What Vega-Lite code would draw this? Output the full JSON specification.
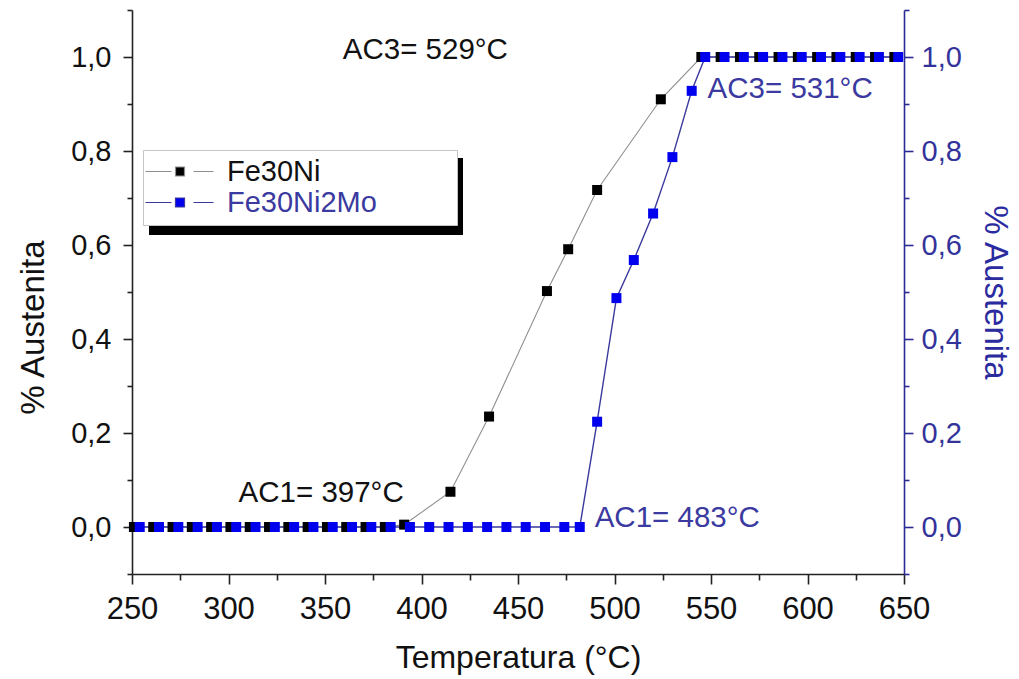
{
  "$schema": "https://vega.github.io/schema/vega-lite/v6.json",
  "width": 772,
  "height": 564,
  "autosize": {"type": "none"},
  "padding": {"left": 132, "top": 10, "right": 115, "bottom": 105},
  "background": "white",
  "config": {
    "view": {"stroke": null},
    "font": "Liberation Sans",
    "axis": {"grid": false, "labelFont": "Liberation Sans", "titleFont": "Liberation Sans", "titleFontWeight": "normal", "labelOverlap": false, "labelFlush": false, "labelBound": false}
  },
  "datasets": {
    "curves": [
      {"series": "Fe30Ni", "T": 251, "A": 0},
      {"series": "Fe30Ni", "T": 261, "A": 0},
      {"series": "Fe30Ni", "T": 271, "A": 0},
      {"series": "Fe30Ni", "T": 281, "A": 0},
      {"series": "Fe30Ni", "T": 291, "A": 0},
      {"series": "Fe30Ni", "T": 301, "A": 0},
      {"series": "Fe30Ni", "T": 311, "A": 0},
      {"series": "Fe30Ni", "T": 321, "A": 0},
      {"series": "Fe30Ni", "T": 331, "A": 0},
      {"series": "Fe30Ni", "T": 341, "A": 0},
      {"series": "Fe30Ni", "T": 351, "A": 0},
      {"series": "Fe30Ni", "T": 361, "A": 0},
      {"series": "Fe30Ni", "T": 371, "A": 0},
      {"series": "Fe30Ni", "T": 381, "A": 0},
      {"series": "Fe30Ni", "T": 391, "A": 0.005},
      {"series": "Fe30Ni", "T": 415, "A": 0.075},
      {"series": "Fe30Ni", "T": 435, "A": 0.235},
      {"series": "Fe30Ni", "T": 465, "A": 0.502},
      {"series": "Fe30Ni", "T": 476, "A": 0.591},
      {"series": "Fe30Ni", "T": 491, "A": 0.717},
      {"series": "Fe30Ni", "T": 524, "A": 0.91},
      {"series": "Fe30Ni", "T": 545, "A": 1.0},
      {"series": "Fe30Ni", "T": 555, "A": 1.0},
      {"series": "Fe30Ni", "T": 565, "A": 1.0},
      {"series": "Fe30Ni", "T": 575, "A": 1.0},
      {"series": "Fe30Ni", "T": 585, "A": 1.0},
      {"series": "Fe30Ni", "T": 595, "A": 1.0},
      {"series": "Fe30Ni", "T": 605, "A": 1.0},
      {"series": "Fe30Ni", "T": 615, "A": 1.0},
      {"series": "Fe30Ni", "T": 625, "A": 1.0},
      {"series": "Fe30Ni", "T": 635, "A": 1.0},
      {"series": "Fe30Ni", "T": 645, "A": 1.0},
      {"series": "Fe30Ni2Mo", "T": 254, "A": 0},
      {"series": "Fe30Ni2Mo", "T": 264, "A": 0},
      {"series": "Fe30Ni2Mo", "T": 274, "A": 0},
      {"series": "Fe30Ni2Mo", "T": 284, "A": 0},
      {"series": "Fe30Ni2Mo", "T": 294, "A": 0},
      {"series": "Fe30Ni2Mo", "T": 304, "A": 0},
      {"series": "Fe30Ni2Mo", "T": 314, "A": 0},
      {"series": "Fe30Ni2Mo", "T": 324, "A": 0},
      {"series": "Fe30Ni2Mo", "T": 334, "A": 0},
      {"series": "Fe30Ni2Mo", "T": 344, "A": 0},
      {"series": "Fe30Ni2Mo", "T": 354, "A": 0},
      {"series": "Fe30Ni2Mo", "T": 364, "A": 0},
      {"series": "Fe30Ni2Mo", "T": 374, "A": 0},
      {"series": "Fe30Ni2Mo", "T": 384, "A": 0},
      {"series": "Fe30Ni2Mo", "T": 394, "A": 0},
      {"series": "Fe30Ni2Mo", "T": 404, "A": 0},
      {"series": "Fe30Ni2Mo", "T": 414, "A": 0},
      {"series": "Fe30Ni2Mo", "T": 424, "A": 0},
      {"series": "Fe30Ni2Mo", "T": 434, "A": 0},
      {"series": "Fe30Ni2Mo", "T": 444, "A": 0},
      {"series": "Fe30Ni2Mo", "T": 454, "A": 0},
      {"series": "Fe30Ni2Mo", "T": 464, "A": 0},
      {"series": "Fe30Ni2Mo", "T": 474, "A": 0},
      {"series": "Fe30Ni2Mo", "T": 482, "A": 0},
      {"series": "Fe30Ni2Mo", "T": 491, "A": 0.224},
      {"series": "Fe30Ni2Mo", "T": 501, "A": 0.487},
      {"series": "Fe30Ni2Mo", "T": 510, "A": 0.568},
      {"series": "Fe30Ni2Mo", "T": 520, "A": 0.667},
      {"series": "Fe30Ni2Mo", "T": 530, "A": 0.787},
      {"series": "Fe30Ni2Mo", "T": 540, "A": 0.928},
      {"series": "Fe30Ni2Mo", "T": 547, "A": 1.0},
      {"series": "Fe30Ni2Mo", "T": 557, "A": 1.0},
      {"series": "Fe30Ni2Mo", "T": 567, "A": 1.0},
      {"series": "Fe30Ni2Mo", "T": 577, "A": 1.0},
      {"series": "Fe30Ni2Mo", "T": 587, "A": 1.0},
      {"series": "Fe30Ni2Mo", "T": 597, "A": 1.0},
      {"series": "Fe30Ni2Mo", "T": 607, "A": 1.0},
      {"series": "Fe30Ni2Mo", "T": 617, "A": 1.0},
      {"series": "Fe30Ni2Mo", "T": 627, "A": 1.0},
      {"series": "Fe30Ni2Mo", "T": 637, "A": 1.0},
      {"series": "Fe30Ni2Mo", "T": 647, "A": 1.0}
    ],
    "notes": [
      {"series": "Fe30Ni", "note": "AC3= 529°C", "T": 402, "A": 1.015},
      {"series": "Fe30Ni", "note": "AC1= 397°C", "T": 348, "A": 0.073},
      {"series": "Fe30Ni2Mo", "note": "AC3= 531°C", "T": 591, "A": 0.932},
      {"series": "Fe30Ni2Mo", "note": "AC1= 483°C", "T": 532.5, "A": 0.02}
    ]
  },
  "data": {"name": "curves"},
  "layer": [
    {
      "mark": {"type": "rect", "color": "#000000"},
      "encoding": {
        "x": {"datum": 259.3, "type": "quantitative", "axis": {"title": "Temperatura (°C)", "values": [250, 275, 300, 325, 350, 375, 400, 425, 450, 475, 500, 525, 550, 575, 600, 625, 650], "labelExpr": "datum.value % 50 == 0 ? datum.label : ''", "tickSize": {"condition": {"test": "datum.value % 50 == 0", "value": 10}, "value": 6}, "domainColor": "#222222", "domainWidth": 1.6, "tickColor": "#222222", "tickWidth": 1.6, "labelColor": "#111111", "labelFontSize": 31, "labelPadding": 10, "titleFontSize": 32, "titleColor": "#111111", "titlePadding": 18}},
        "x2": {"datum": 421.5},
        "y": {"datum": 0.785, "type": "quantitative", "axis": null},
        "y2": {"datum": 0.622}
      }
    },
    {
      "transform": [{"filter": "datum.series == 'Fe30Ni'"}],
      "mark": {"type": "line", "stroke": "#8f8f8f", "strokeWidth": 1.1},
      "encoding": {
        "x": {
          "field": "T", "type": "quantitative",
          "scale": {"domain": [250, 650], "nice": false, "zero": false},
          "axis": {"title": "Temperatura (°C)", "values": [250, 275, 300, 325, 350, 375, 400, 425, 450, 475, 500, 525, 550, 575, 600, 625, 650], "labelExpr": "datum.value % 50 == 0 ? datum.label : ''", "tickSize": {"condition": {"test": "datum.value % 50 == 0", "value": 10}, "value": 6}, "domainColor": "#222222", "domainWidth": 1.6, "tickColor": "#222222", "tickWidth": 1.6, "labelColor": "#111111", "labelFontSize": 31, "labelPadding": 10, "titleFontSize": 32, "titleColor": "#111111", "titlePadding": 18}
        },
        "y": {
          "field": "A", "type": "quantitative",
          "scale": {"domain": [-0.1, 1.1], "nice": false, "zero": false},
          "axis": {
            "orient": "left",
            "title": "% Austenita",
            "values": [-0.1, 0, 0.1, 0.2, 0.3, 0.4, 0.5, 0.6, 0.7, 0.8, 0.9, 1.0, 1.1],
            "labelExpr": "round(datum.value*10)%2 == 0 ? replace(format(datum.value, '.1f'), '.', ',') : ''",
            "tickSize": {"condition": {"test": "round(datum.value*10)%2 == 0", "value": 9}, "value": 5},
            "domainColor": "#222222", "domainWidth": 1.6,
            "tickColor": "#222222", "tickWidth": 1.6,
            "labelColor": "#111111", "labelFontSize": 29, "labelPadding": 12,
            "titleFontSize": 33, "titleColor": "#111111", "titlePadding": 20, "titleY": 317
          }
        }
      }
    },
    {
      "transform": [{"filter": "datum.series == 'Fe30Ni2Mo'"}],
      "mark": {"type": "line", "stroke": "#3a3a9c", "strokeWidth": 1.4},
      "encoding": {
        "x": {"field": "T", "type": "quantitative", "axis": {"title": "Temperatura (°C)", "values": [250, 275, 300, 325, 350, 375, 400, 425, 450, 475, 500, 525, 550, 575, 600, 625, 650], "labelExpr": "datum.value % 50 == 0 ? datum.label : ''", "tickSize": {"condition": {"test": "datum.value % 50 == 0", "value": 10}, "value": 6}, "domainColor": "#222222", "domainWidth": 1.6, "tickColor": "#222222", "tickWidth": 1.6, "labelColor": "#111111", "labelFontSize": 31, "labelPadding": 10, "titleFontSize": 32, "titleColor": "#111111", "titlePadding": 18}},
        "y": {
          "field": "A", "type": "quantitative",
          "axis": {
            "orient": "right",
            "title": "% Austenita",
            "values": [-0.1, 0, 0.1, 0.2, 0.3, 0.4, 0.5, 0.6, 0.7, 0.8, 0.9, 1.0, 1.1],
            "labelExpr": "round(datum.value*10)%2 == 0 ? replace(format(datum.value, '.1f'), '.', ',') : ''",
            "tickSize": {"condition": {"test": "round(datum.value*10)%2 == 0", "value": 9}, "value": 5},
            "domainColor": "#2b2b96", "domainWidth": 1.6,
            "tickColor": "#2b2b96", "tickWidth": 1.6,
            "labelColor": "#33339a", "labelFontSize": 29, "labelPadding": 8,
            "titleFontSize": 33, "titleColor": "#2b2ba0", "titlePadding": 16
          }
        }
      }
    },
    {
      "mark": {"type": "point", "shape": "square", "filled": true, "size": 100, "opacity": 1},
      "encoding": {
        "x": {"field": "T", "type": "quantitative", "axis": {"title": "Temperatura (°C)", "values": [250, 275, 300, 325, 350, 375, 400, 425, 450, 475, 500, 525, 550, 575, 600, 625, 650], "labelExpr": "datum.value % 50 == 0 ? datum.label : ''", "tickSize": {"condition": {"test": "datum.value % 50 == 0", "value": 10}, "value": 6}, "domainColor": "#222222", "domainWidth": 1.6, "tickColor": "#222222", "tickWidth": 1.6, "labelColor": "#111111", "labelFontSize": 31, "labelPadding": 10, "titleFontSize": 32, "titleColor": "#111111", "titlePadding": 18}},
        "y": {"field": "A", "type": "quantitative", "axis": null},
        "color": {
          "field": "series", "type": "nominal",
          "scale": {"domain": ["Fe30Ni", "Fe30Ni2Mo"], "range": ["#000000", "#0000ee"]},
          "legend": {
            "title": null,
            "orient": "none",
            "legendX": 11,
            "legendY": 140,
            "symbolType": "M-3.8,0H1.4M5.8,0H9.8M2.2,-0.9H4V0.9H2.2Z",
            "symbolSize": 100,
            "symbolStrokeWidth": 1.2,
            "symbolStrokeColor": {"expr": "datum.value == 'Fe30Ni' ? '#8f8f8f' : '#3a3a9c'"},
            "symbolOpacity": 1,
            "labelFont": "Liberation Sans",
            "labelFontSize": 29,
            "labelOffset": 48,
            "labelLimit": 600,
            "labelColor": {"expr": "datum.label == 'Fe30Ni' ? '#111111' : '#3a3aa0'"},
            "labelExpr": "datum.label + '\u00a0\u00a0\u00a0\u00a0\u00a0\u00a0\u00a0\u00a0\u00a0\u200b'",
            "strokeColor": "#c4c4c4",
            "fillColor": "white",
            "padding": 7,
            "rowPadding": 1
          }
        }
      }
    },
    {
      "data": {"name": "notes"},
      "transform": [{"filter": "datum.series == 'Fe30Ni'"}],
      "mark": {"type": "text", "font": "Liberation Sans", "fontSize": 29.5, "color": "#111111", "align": "center", "baseline": "middle"},
      "encoding": {
        "x": {"field": "T", "type": "quantitative", "axis": {"title": "Temperatura (°C)", "values": [250, 275, 300, 325, 350, 375, 400, 425, 450, 475, 500, 525, 550, 575, 600, 625, 650], "labelExpr": "datum.value % 50 == 0 ? datum.label : ''", "tickSize": {"condition": {"test": "datum.value % 50 == 0", "value": 10}, "value": 6}, "domainColor": "#222222", "domainWidth": 1.6, "tickColor": "#222222", "tickWidth": 1.6, "labelColor": "#111111", "labelFontSize": 31, "labelPadding": 10, "titleFontSize": 32, "titleColor": "#111111", "titlePadding": 18}},
        "y": {"field": "A", "type": "quantitative", "axis": null},
        "text": {"field": "note"}
      }
    },
    {
      "data": {"name": "notes"},
      "transform": [{"filter": "datum.series == 'Fe30Ni2Mo'"}],
      "mark": {"type": "text", "font": "Liberation Sans", "fontSize": 29.5, "color": "#3a3aa0", "align": "center", "baseline": "middle"},
      "encoding": {
        "x": {"field": "T", "type": "quantitative", "axis": {"title": "Temperatura (°C)", "values": [250, 275, 300, 325, 350, 375, 400, 425, 450, 475, 500, 525, 550, 575, 600, 625, 650], "labelExpr": "datum.value % 50 == 0 ? datum.label : ''", "tickSize": {"condition": {"test": "datum.value % 50 == 0", "value": 10}, "value": 6}, "domainColor": "#222222", "domainWidth": 1.6, "tickColor": "#222222", "tickWidth": 1.6, "labelColor": "#111111", "labelFontSize": 31, "labelPadding": 10, "titleFontSize": 32, "titleColor": "#111111", "titlePadding": 18}},
        "y": {"field": "A", "type": "quantitative", "axis": null},
        "text": {"field": "note"}
      }
    }
  ],
  "resolve": {"axis": {"y": "independent"}}
}
